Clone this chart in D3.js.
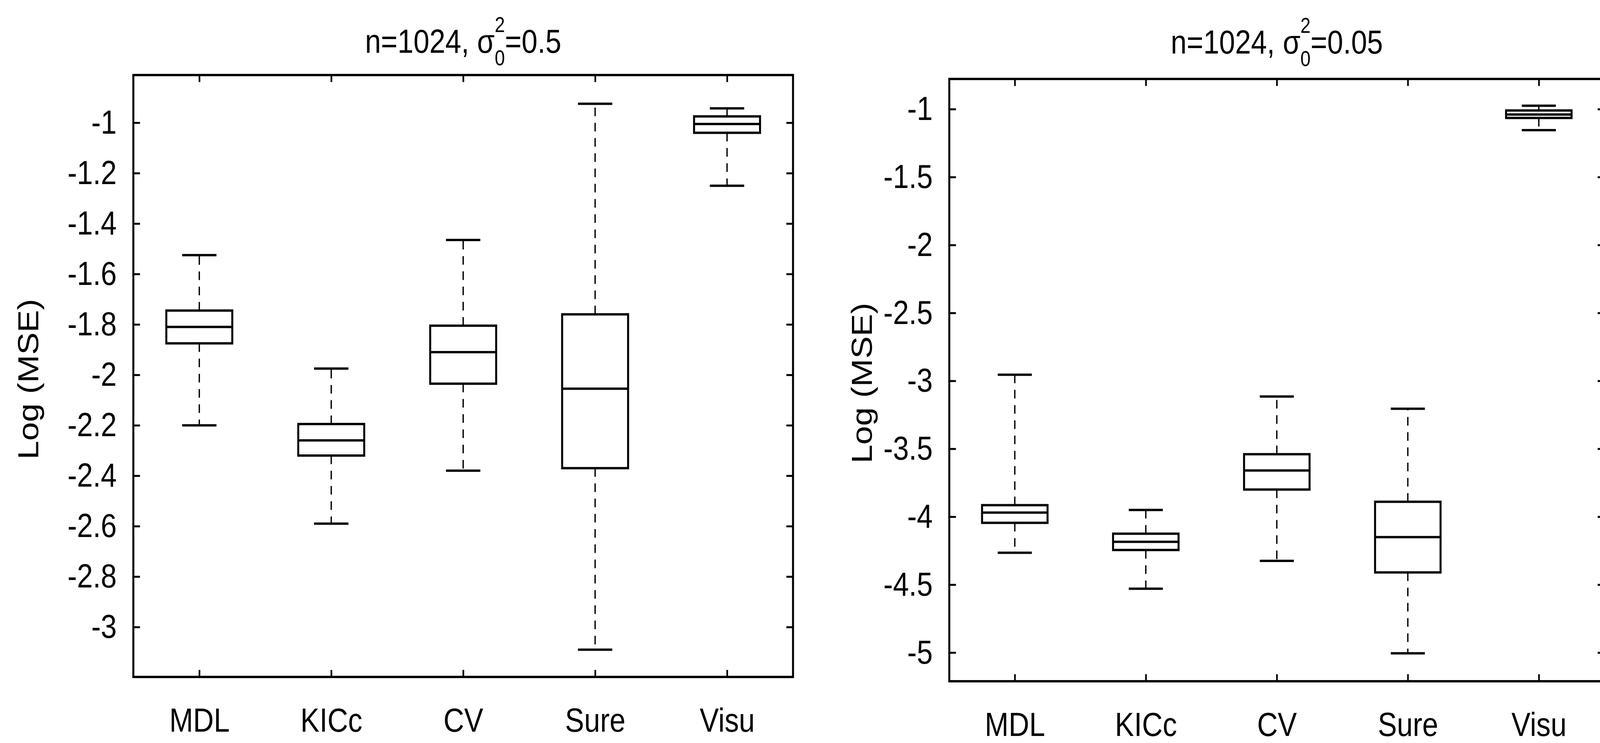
<!DOCTYPE html>
<html>
<head>
<meta charset="utf-8">
<script src="https://cdn.jsdelivr.net/npm/d3@7"></script>
<style>
  html, body { margin: 0; padding: 0; background: #fff; overflow: hidden; }
  #chart { width: 100vw; height: 100vh; }
  svg { display: block; width: 100%; height: 100%; }
</style>
</head>
<body>
<div id="chart"></div>
<script>
// categories
var methods = ["MDL", "KICc", "CV", "Sure", "Visu"];

// left panel: n=1024, sigma0^2 = 0.5
var leftLo  = [-2.20, -2.59, -2.38, -3.09, -1.25];
var leftQ1  = [-1.875, -2.32, -2.035, -2.37, -1.04];
var leftMed = [-1.81, -2.26, -1.91, -2.055, -1.005];
var leftQ3  = [-1.745, -2.195, -1.805, -1.76, -0.975];
var leftHi  = [-1.525, -1.975, -1.465, -0.925, -0.943];
var leftTicks = [-3, -2.8, -2.6, -2.4, -2.2, -2, -1.8, -1.6, -1.4, -1.2, -1];

// right panel: n=1024, sigma0^2 = 0.05
var rightLo  = [-4.265, -4.53, -4.325, -5.005, -1.155];
var rightQ1  = [-4.045, -4.245, -3.80, -4.41, -1.065];
var rightMed = [-3.97, -4.185, -3.66, -4.15, -1.04];
var rightQ3  = [-3.915, -4.125, -3.54, -3.89, -1.01];
var rightHi  = [-2.955, -3.95, -3.115, -3.205, -0.975];
var rightTicks = [-5, -4.5, -4, -3.5, -3, -2.5, -2, -1.5, -1];

var W = 4812, H = 1901;
var font = "'Liberation Sans', Arial, Helvetica, sans-serif";
var fmt = function(d){ return String(+d.toFixed(1)); };

// drawn in a 4812x1901 coordinate box, stretched to whatever the window is
var svg = d3.select("#chart").append("svg")
    .attr("viewBox", "0 0 " + W + " " + H)
    .attr("preserveAspectRatio", "none");

function drawPanel(p) {
    var x = d3.scalePoint()
        .domain(methods)
        .range([p.left, p.right])
        .padding(0.5);
    var y = d3.scaleLinear()
        .domain(p.yDomain)
        .range([p.bottom, p.top]);
    var step = x.step();
    var boxW = step * 0.5, capW = step * 0.26;

    var g = svg.append("g");

    // axes, ticks inward on all four sides
    var yl = g.append("g")
        .attr("transform", "translate(" + p.left + ",0)")
        .call(d3.axisLeft(y).tickValues(p.ticks).tickFormat(fmt).tickSizeInner(-20).tickSizeOuter(0).tickPadding(50));
    var yr = g.append("g")
        .attr("transform", "translate(" + p.right + ",0)")
        .call(d3.axisRight(y).tickValues(p.ticks).tickFormat("").tickSizeInner(-20).tickSizeOuter(0));
    var xb = g.append("g")
        .attr("transform", "translate(0," + p.bottom + ")")
        .call(d3.axisBottom(x).tickSizeInner(-18).tickSizeOuter(0).tickPadding(79));
    var xt = g.append("g")
        .attr("transform", "translate(0," + p.top + ")")
        .call(d3.axisTop(x).tickFormat("").tickSizeInner(-18).tickSizeOuter(0));

    [yl, yr, xb, xt].forEach(function(a){
        a.select(".domain").remove();
        a.selectAll(".tick line").attr("stroke", "#000").attr("stroke-width", 5);
        a.selectAll("text")
            .attr("font-family", font)
            .attr("font-size", 86)
            .attr("fill", "#000");
    });

    // frame
    g.append("rect")
        .attr("x", p.left)
        .attr("y", p.top)
        .attr("width", p.right - p.left)
        .attr("height", p.bottom - p.top)
        .attr("fill", "none")
        .attr("stroke", "#000")
        .attr("stroke-width", 6);

    var rows = methods.map(function(m, i){
        return {name: m, lo: p.lo[i], q1: p.q1[i], med: p.med[i], q3: p.q3[i], hi: p.hi[i]};
    });

    var b = g.selectAll(".box")
        .data(rows)
        .enter().append("g")
        .attr("class", "box");

    // dashed whiskers
    b.append("line")
        .attr("x1", function(d){ return x(d.name); })
        .attr("x2", function(d){ return x(d.name); })
        .attr("y1", function(d){ return y(d.q3); })
        .attr("y2", function(d){ return y(d.hi); })
        .attr("stroke", "#000").attr("stroke-width", 4)
        .attr("stroke-dasharray", "22,17");
    b.append("line")
        .attr("x1", function(d){ return x(d.name); })
        .attr("x2", function(d){ return x(d.name); })
        .attr("y1", function(d){ return y(d.q1); })
        .attr("y2", function(d){ return y(d.lo); })
        .attr("stroke", "#000").attr("stroke-width", 4)
        .attr("stroke-dasharray", "22,17");

    // caps
    ["hi", "lo"].forEach(function(k){
        b.append("line")
            .attr("x1", function(d){ return x(d.name) - capW / 2; })
            .attr("x2", function(d){ return x(d.name) + capW / 2; })
            .attr("y1", function(d){ return y(d[k]); })
            .attr("y2", function(d){ return y(d[k]); })
            .attr("stroke", "#000").attr("stroke-width", 6);
    });

    // box
    b.append("rect")
        .attr("x", function(d){ return x(d.name) - boxW / 2; })
        .attr("width", boxW)
        .attr("y", function(d){ return y(d.q3); })
        .attr("height", function(d){ return y(d.q1) - y(d.q3); })
        .attr("fill", "#fff")
        .attr("stroke", "#000").attr("stroke-width", 6);

    // median
    b.append("line")
        .attr("x1", function(d){ return x(d.name) - boxW / 2; })
        .attr("x2", function(d){ return x(d.name) + boxW / 2; })
        .attr("y1", function(d){ return y(d.med); })
        .attr("y2", function(d){ return y(d.med); })
        .attr("stroke", "#000").attr("stroke-width", 6);

    // title with stacked sub/superscript
    var t = g.append("text")
        .attr("x", (p.left + p.right) / 2)
        .attr("y", p.titleY)
        .attr("text-anchor", "middle")
        .attr("font-family", font)
        .attr("font-size", 86)
        .attr("fill", "#000");
    t.append("tspan").text("n=1024, \u03c3");
    t.append("tspan").attr("font-size", 55).attr("dy", 32).text("0");
    t.append("tspan").attr("font-size", 55).attr("dx", -30.6).attr("dy", -85).text("2");
    t.append("tspan").attr("dy", 53).text(p.titleValue);

    // y label
    g.append("text")
        .attr("transform", "translate(" + p.labelX + "," + p.labelY + ") rotate(-90)")
        .attr("text-anchor", "middle")
        .attr("font-family", font)
        .attr("font-size", 86)
        .attr("fill", "#000")
        .text("Log (MSE)");
}

drawPanel({
    left: 401, right: 2385, top: 192, bottom: 1732,
    yDomain: [-3.198, -0.811], ticks: leftTicks,
    lo: leftLo, q1: leftQ1, med: leftMed, q3: leftQ3, hi: leftHi,
    titleY: 135, titleValue: "=0.5",
    labelX: 115, labelY: 970
});

drawPanel({
    left: 2855, right: 4825, top: 202, bottom: 1743,
    yDomain: [-5.211, -0.778], ticks: rightTicks,
    lo: rightLo, q1: rightQ1, med: rightMed, q3: rightQ3, hi: rightHi,
    titleY: 137, titleValue: "=0.05",
    labelX: 2622, labelY: 980
});
</script>
</body>
</html>
